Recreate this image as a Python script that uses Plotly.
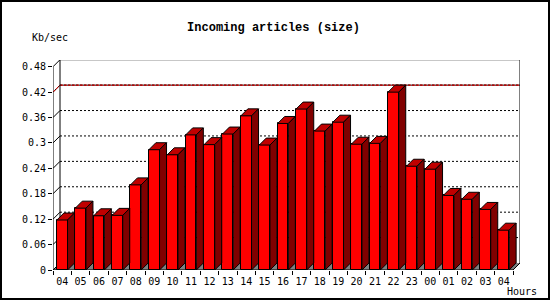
import plotly.graph_objects as go

# ---- data ----
hours = ["04", "05", "06", "07", "08", "09", "10", "11", "12", "13", "14", "15", "16",
         "17", "18", "19", "20", "21", "22", "23", "00", "01", "02", "03", "04"]
values = [0.118, 0.146, 0.128, 0.129, 0.201, 0.284, 0.272, 0.319, 0.296, 0.321, 0.364,
          0.295, 0.346, 0.380, 0.328, 0.349, 0.297, 0.299, 0.420, 0.245, 0.238, 0.176,
          0.167, 0.143, 0.094]
y_ticks = [0, 0.06, 0.12, 0.18, 0.24, 0.3, 0.36, 0.42, 0.48]
y_ticktext = ["0", "0.06", "0.12", "0.18", "0.24", "0.3", "0.36", "0.42", "0.48"]
title = "Incoming articles (size)"
y_label = "Kb/sec"
x_label = "Hours"

# ---- geometry ----
W, H = 550, 300
ML, MR, MT, MB = 53, 30, 60, 30
PW, PH = W - ML - MR, H - MT - MB
px_per_x = 18.4
px_per_y = 423.5
xr0 = -0.5
xr1 = xr0 + PW / px_per_x
yr1 = PH / px_per_y
DEPTH = 7
dx = DEPTH / px_per_x
dy = DEPTH / px_per_y
half = 0.29
n = len(values)
xs = list(range(n))
x_end = n - 0.5
y_top = y_ticks[-1]

FRONT = "#ff0000"
TOP = "#c00000"
SIDE = "#800000"

fig = go.Figure()

# front faces
fig.add_trace(go.Bar(x=xs, y=values, width=2 * half,
                     marker=dict(color=FRONT, line=dict(color="black", width=1)),
                     hoverinfo="skip"))

# top and side faces
tx, ty, sx, sy = [], [], [], []
for k, v in zip(xs, values):
    l, r = k - half, k + half
    tx += [l, l + dx, r + dx, r, l, None]
    ty += [v, v + dy, v + dy, v, v, None]
    sx += [r, r, r + dx, r + dx, r, None]
    sy += [0, v, v + dy, dy, 0, None]
fig.add_trace(go.Scatter(x=tx, y=ty, mode="lines", fill="toself", fillcolor=TOP,
                         line=dict(color="black", width=1), hoverinfo="skip"))
fig.add_trace(go.Scatter(x=sx, y=sy, mode="lines", fill="toself", fillcolor=SIDE,
                         line=dict(color="black", width=1), hoverinfo="skip"))

shapes = []
# floor
shapes.append(dict(type="path", xref="x", yref="y", layer="below",
                   path=f"M {xr0},0 L {xr0+dx},{dy} L {x_end+dx},{dy} L {x_end},0 Z",
                   fillcolor="#808080", line=dict(width=0)))
# back wall grid (dotted)
for v in y_ticks[1:-1]:
    shapes.append(dict(type="line", xref="x", yref="y", layer="below",
                       x0=xr0 + dx, x1=x_end + dx, y0=v + dy, y1=v + dy,
                       line=dict(color="black", width=1, dash="2px,2px")))
# diagonals from front axis to back wall
for v in y_ticks:
    shapes.append(dict(type="line", xref="x", yref="y", layer="below",
                       x0=xr0, x1=xr0 + dx, y0=v, y1=v + dy,
                       line=dict(color="black", width=1)))
# max line
vmax = max(values)
for col, dash in (("black", "solid"), ("red", "3px,1px")):
    shapes.append(dict(type="line", xref="x", yref="y", layer="below",
                       x0=xr0 + dx, x1=x_end + dx, y0=vmax + dy, y1=vmax + dy,
                       line=dict(color=col, width=1, dash=dash)))
    shapes.append(dict(type="line", xref="x", yref="y", layer="below",
                       x0=xr0, x1=xr0 + dx, y0=vmax, y1=vmax + dy,
                       line=dict(color=col, width=1, dash=dash)))
# back wall box
shapes.append(dict(type="path", xref="x", yref="y", layer="below",
                   path=f"M {xr0+dx},{dy} L {xr0+dx},{y_top+dy} L {x_end+dx},{y_top+dy} L {x_end+dx},{dy}",
                   line=dict(color="black", width=1)))
# front y axis
shapes.append(dict(type="line", xref="x", yref="y", layer="above",
                   x0=xr0, x1=xr0, y0=0, y1=y_top, line=dict(color="black", width=1)))
# front x axis and right diagonal
shapes.append(dict(type="path", xref="x", yref="y", layer="above",
                   path=f"M {xr0},0 L {x_end},0 L {x_end+dx},{dy}",
                   line=dict(color="black", width=1)))
# outer frame
shapes.append(dict(type="rect", xref="paper", yref="paper",
                   x0=(1 - ML) / PW, x1=(W - 1 - ML) / PW,
                   y0=-(H - 1 - MT - PH) / PH, y1=(MT + PH - 1) / PH,
                   line=dict(color="black", width=2)))

mono = "DejaVu Sans Mono"
annotations = [
    dict(text=y_label, xref="paper", yref="paper", x=(30 - ML) / PW, y=(MT + PH - 37.5) / PH,
         xanchor="left", yanchor="middle", showarrow=False,
         font=dict(family=mono, size=10, color="black")),
    dict(text=x_label, xref="paper", yref="paper", x=(505 - ML) / PW, y=(MT + PH - 291.5) / PH,
         xanchor="left", yanchor="middle", showarrow=False,
         font=dict(family=mono, size=10, color="black")),
]

fig.update_layout(
    width=W, height=H, margin=dict(l=ML, r=MR, t=MT, b=MB),
    paper_bgcolor="white", plot_bgcolor="white", showlegend=False,
    title=dict(text=f"<b>{title}</b>", x=273.5 / W, xanchor="center", xref="container",
               y=1 - 26.5 / H, yanchor="middle", yref="container",
               font=dict(family="Liberation Mono", size=12, color="black")),
    shapes=shapes, annotations=annotations, bargap=0,
    xaxis=dict(range=[xr0, xr1], showgrid=False, zeroline=False, showline=False,
               tickmode="array", tickvals=xs, ticktext=hours, ticks="",
               ticklabelstandoff=4,
               tickfont=dict(family=mono, size=10, color="black"),
               minor=dict(tickmode="linear", tick0=-0.5, dtick=1, ticks="outside",
                          ticklen=4, tickcolor="black", tickwidth=1, showgrid=False),
               fixedrange=True),
    yaxis=dict(range=[0, yr1], showgrid=False, zeroline=False, showline=False,
               tickmode="array", tickvals=y_ticks, ticktext=y_ticktext,
               ticks="outside", ticklen=4, tickcolor="black", tickwidth=1,
               tickfont=dict(family=mono, size=10, color="black"), fixedrange=True),
)

fig.write_html("out.html")
